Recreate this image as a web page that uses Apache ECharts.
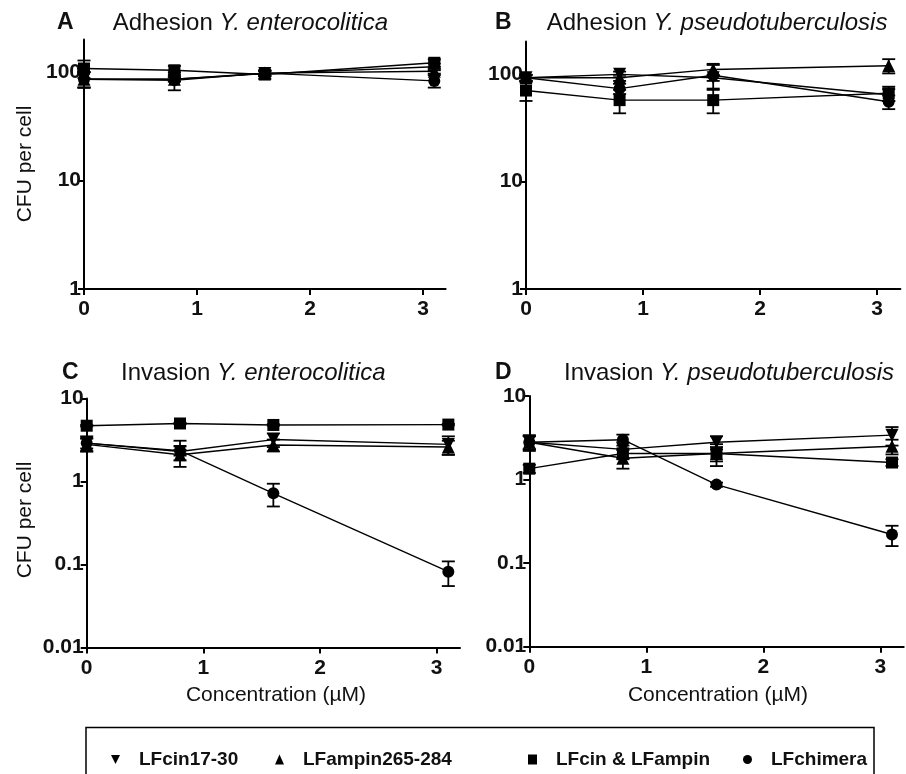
<!DOCTYPE html>
<html><head><meta charset="utf-8">
<script src="https://cdn.jsdelivr.net/npm/echarts@6/dist/echarts.min.js"></script>
<style>html,body{margin:0;padding:0;background:#fff}#c{width:906px;height:774px}</style>
</head><body><div id="c"></div>
<script>
// concentrations (µM)
const conc = [0, 0.8, 1.6, 3.1];
const xTicks = [0, 1, 2, 3];
const yTicksAdh = [1, 10, 100];
const yTicksInv = [0.01, 0.1, 1, 10];
const seriesNames = ['LFcin17-30', 'LFampin265-284', 'LFcin & LFampin', 'LFchimera'];

// A: Adhesion Y. enterocolitica
const adhEnt_cin = [86, 86, 97, 112];
const adhEnt_amp = [86, 86, 98, 102];
const adhEnt_mix = [108, 104, 95, 122];
const adhEnt_chi = [86, 84, 98, 83];
const adhEnt_cinErr = [14, 4, 5, 8];
const adhEnt_ampErr = [14, 4, 5, 5];
const adhEnt_mixErr = [20, 10, 8, 10];
const adhEnt_chiErr = [14, 16, 6, 11];

// B: Adhesion Y. pseudotuberculosis
const adhPst_cin = [92, 99, 92, 64];
const adhPst_amp = [92, 92, 110, 119];
const adhPst_mix = [70, 57, 57, 66];
const adhPst_chi = [92, 73, 97, 55];
const adhPst_cinErr = [6, 6, 6, 8];
const adhPst_ampErr = [6, 6, 14, 18];
const adhPst_mixErr = [14, 14, 14, 10];
const adhPst_chiErr = [6, 8, 24, 8];

// C: Invasion Y. enterocolitica
const invEnt_cin = [2.9, 2.3, 3.2, 2.8];
const invEnt_amp = [2.8, 2.1, 2.75, 2.6];
const invEnt_mix = [4.7, 5.0, 4.8, 4.85];
const invEnt_chi = [2.9, 2.35, 0.72, 0.082];
const invEnt_cinErr = [0.6, 0.8, 0.6, 0.7];
const invEnt_ampErr = [0.5, 0.3, 0.45, 0.5];
const invEnt_mixErr = [0.1, 0.1, 0.1, 0.1];
const invEnt_chiErr = [0.4, 0.3, 0.22, 0.027];

// D: Invasion Y. pseudotuberculosis
const invPst_cin = [2.8, 2.3, 2.8, 3.4];
const invPst_amp = [2.8, 1.8, 2.05, 2.5];
const invPst_mix = [1.35, 2.05, 2.05, 1.6];
const invPst_chi = [2.8, 3.0, 0.87, 0.22];
const invPst_cinErr = [0.6, 0.5, 0.5, 0.85];
const invPst_ampErr = [0.5, 0.45, 0.4, 0.5];
const invPst_mixErr = [0.15, 0.3, 0.6, 0.15];
const invPst_chiErr = [0.5, 0.45, 0.05, 0.06];

const panels = [
  {vals: [adhEnt_cin, adhEnt_amp, adhEnt_mix, adhEnt_chi], errs: [adhEnt_cinErr, adhEnt_ampErr, adhEnt_mixErr, adhEnt_chiErr]},
  {vals: [adhPst_cin, adhPst_amp, adhPst_mix, adhPst_chi], errs: [adhPst_cinErr, adhPst_ampErr, adhPst_mixErr, adhPst_chiErr]},
  {vals: [invEnt_cin, invEnt_amp, invEnt_mix, invEnt_chi], errs: [invEnt_cinErr, invEnt_ampErr, invEnt_mixErr, invEnt_chiErr]},
  {vals: [invPst_cin, invPst_amp, invPst_mix, invPst_chi], errs: [invPst_cinErr, invPst_ampErr, invPst_mixErr, invPst_chiErr]}
];

const FONT = '"Liberation Sans", Arial, Helvetica, sans-serif';
const downTri = 'path://M0,0L10,0L5,10Z';
const symbols = ['triangle', 'triangle', 'rect', 'circle'];
const rotates = [180, 0, 0, 0];
const sizes = [13, 13, 12, 12];

const grids = [
  {left: 84, top: 39.5, width: 361.6, height: 249.5},
  {left: 526, top: 41.5, width: 374.4, height: 247.5},
  {left: 86.7, top: 398.5, width: 373.3, height: 249},
  {left: 529.3, top: 396, width: 374.4, height: 250.7}
].map(g => Object.assign({outerBoundsMode: 'none', containLabel: false}, g));

const axisLineStyle = {color: '#000', width: 2};
const xAxes = grids.map((g, i) => ({
  type: 'value', gridIndex: i, min: 0, max: 3.2, interval: 1,
  axisLine: {lineStyle: axisLineStyle},
  axisTick: {length: 6, lineStyle: {color: '#000', width: 2}, customValues: xTicks},
  axisLabel: {customValues: xTicks, color: '#111', fontWeight: 'bold', fontSize: 21, fontFamily: FONT, margin: 10},
  splitLine: {show: false}
}));
const yAxes = grids.map((g, i) => {
  const ticks = i < 2 ? yTicksAdh : yTicksInv;
  return {
    type: 'log', logBase: 10, gridIndex: i,
    min: i < 2 ? 1 : 0.01, max: i < 2 ? 200 : 10,
    axisLine: {show: true, lineStyle: axisLineStyle},
    axisTick: {show: true, length: 6, lineStyle: {color: '#000', width: 2}, customValues: ticks},
    axisLabel: {customValues: ticks, color: '#111', fontWeight: 'bold', fontSize: 21, fontFamily: FONT, margin: 3,
      formatter: v => String(+(+v).toPrecision(3))},
    splitLine: {show: false}
  };
});

function errRender(params, api) {
  const x = api.value(0), lo = api.value(1), hi = api.value(2);
  const a = api.coord([x, hi]), b = api.coord([x, lo]);
  const w = 6.5;
  const st = {stroke: '#000', lineWidth: 1.8};
  return {type: 'group', children: [
    {type: 'line', shape: {x1: a[0], y1: a[1], x2: b[0], y2: b[1]}, style: st},
    {type: 'line', shape: {x1: a[0] - w, y1: a[1], x2: a[0] + w, y2: a[1]}, style: st},
    {type: 'line', shape: {x1: b[0] - w, y1: b[1], x2: b[0] + w, y2: b[1]}, style: st}
  ]};
}

const series = [];
panels.forEach((p, gi) => {
  p.vals.forEach((v, si) => {
    series.push({
      type: 'custom', name: seriesNames[si] + ' err', xAxisIndex: gi, yAxisIndex: gi,
      renderItem: errRender, clip: false, z: 1,
      encode: {x: 0, y: [1, 2]},
      data: conc.map((c, k) => [c, v[k] - p.errs[si][k], v[k] + p.errs[si][k]])
    });
  });
  p.vals.forEach((v, si) => {
    series.push({
      type: 'line', name: seriesNames[si], xAxisIndex: gi, yAxisIndex: gi,
      data: conc.map((c, k) => [c, v[k]]),
      symbol: symbols[si], symbolRotate: rotates[si], symbolSize: sizes[si], showSymbol: true,
      itemStyle: {color: '#000', borderWidth: 0},
      lineStyle: {color: '#000', width: 1.4},
      emphasis: {disabled: true}, z: 2, clip: false
    });
  });
});

const legIcons = [downTri, 'triangle', 'rect', 'circle'];
const legLefts = [106, 270, 523, 738];
const legends = seriesNames.map((n, i) => ({
  data: [n], left: legLefts[i], top: 745, icon: legIcons[i],
  itemWidth: 9, itemHeight: 10, selectedMode: false,
  textStyle: {fontFamily: FONT, fontWeight: 'bold', fontSize: 19, color: '#111', padding: [0, 0, 0, i === 3 ? 14 : 14]}
}));

function titleText(x, y, a, b) {
  return {type: 'text', x: x, y: y, style: {
    text: '{n|' + a + '}{i|' + b + '}', verticalAlign: 'middle', align: 'left',
    rich: {n: {fontFamily: FONT, fontSize: 24, fill: '#111', color: '#111'},
           i: {fontFamily: FONT, fontSize: 24, fontStyle: 'italic', fill: '#111', color: '#111'}}
  }};
}
function letter(x, y, t) {
  return {type: 'text', x: x, y: y, style: {text: t, font: 'bold 23px ' + FONT, fill: '#111', verticalAlign: 'middle'}};
}
function plain(x, y, t, rot) {
  return {type: 'text', x: x, y: y, rotation: rot || 0, style: {text: t, font: '21px ' + FONT, fill: '#111', align: 'center', verticalAlign: 'middle'}};
}

const graphic = [
  letter(57, 23, 'A'), titleText(112.7, 23, 'Adhesion ', 'Y. enterocolitica'),
  letter(495, 23, 'B'), titleText(546.7, 23, 'Adhesion ', 'Y. pseudotuberculosis'),
  letter(62, 373, 'C'), titleText(121, 373, 'Invasion ', 'Y. enterocolitica'),
  letter(495, 373, 'D'), titleText(564, 373, 'Invasion ', 'Y. pseudotuberculosis'),
  plain(25, 164, 'CFU per cell', Math.PI / 2),
  plain(25, 520, 'CFU per cell', Math.PI / 2),
  plain(276, 695, 'Concentration (µM)'),
  plain(718, 695, 'Concentration (µM)'),
  {type: 'rect', shape: {x: 86, y: 727.5, width: 788, height: 80}, style: {fill: 'none', stroke: '#000', lineWidth: 1.5}}
];

const chart = echarts.init(document.getElementById('c'), null, {renderer: 'canvas'});
chart.setOption({
  animation: false,
  backgroundColor: '#fff',
  grid: grids, xAxis: xAxes, yAxis: yAxes,
  legend: legends,
  series: series,
  graphic: graphic
});
</script></body></html>
